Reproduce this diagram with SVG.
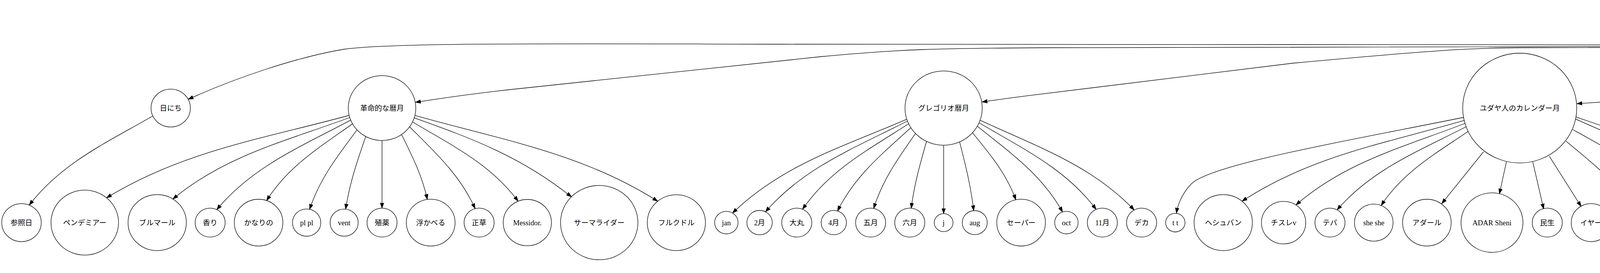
<svg xmlns="http://www.w3.org/2000/svg" width="7953" height="698" viewBox="0 0 7953 698">
<style>
.n ellipse{fill:none;stroke:#000;stroke-width:1.3}
.n text{font-family:"Liberation Serif","Noto Sans CJK JP",serif;font-size:18.67px;text-anchor:middle;fill:#000}
#edges path{fill:none;stroke:#000;stroke-width:1.3;marker-end:url(#ah)}
</style>
<defs>
<marker id="ah" viewBox="0 0 14 10" refX="13.3" refY="5" markerWidth="14" markerHeight="10" markerUnits="userSpaceOnUse" orient="auto"><path d="M0,0.3 L13.3,5 L0,9.7 Z" fill="#000" stroke="#000" stroke-width="1"/></marker>
</defs>
<rect width="7953" height="698" fill="#fff"/>
<g id="edges">
<path d="M5321,51 C5295,78 5000,108 4620,115 L2000,113 C1500,112 1000,108 880,126 C760,146 600,200 482,254"/>
<path d="M5322.5,54.5 C5295,84 5000,111 4620,118 L2700,122 C2400,123 2300,126 2100,145 L1330,226.5 C1200,240 1100,256 1063.8,261.5"/>
<path d="M5324.5,57 C5295,88 5000,114 4620,120 L3900,122 C3770,122 3650,130 3310,161.5 L2640,243.6 C2580,251 2540,257 2514,260.7"/>
<path d="M5327,59.5 C5285,95 5000,170 4620,214 C4400,240 4150,258 4037,265"/>
<path d="M5344.5,66.5 L5344.5,193.3"/>
<path d="M5369.5,47 C5800,114 6300,192 6685.5,252"/>
<path d="M5370,43.5 C5800,58 6300,72 6600,83.3 C6800,91 6950,103 7000,118 C7045,135 7065,190 7072,228.6"/>
<path d="M5370,42.5 C5800,56 6300,68 6600,77 C6900,86 7100,108 7140,125 C7175,145 7192,185 7198,216.7"/>
<path d="M5370,41.5 C5800,53 6300,62 6600,70.5 C6950,80 7200,100 7270,115 C7310,128 7340,170 7350.6,218"/>
<path d="M391.2,296.5 C272.9,364.7 158.1,416.4 74.8,524.5"/>
<path d="M893.7,295 C672.2,355.1 468.7,386.2 272.9,505.8"/>
<path d="M895.3,300.5 C731.6,360.8 576.9,397.6 442.6,508.9"/>
<path d="M897.7,307.1 C770.4,375.1 647.2,425.1 554.9,536"/>
<path d="M902.4,316.6 C818.5,376.5 737.1,425.4 682.6,512.9"/>
<path d="M914,332.2 C864.4,398.5 818.7,456.6 792.6,535.2"/>
<path d="M936.2,349 C914.2,412.8 895.1,468.1 884.9,534.8"/>
<path d="M978,359.3 L978,532.2"/>
<path d="M1028,344 C1055.8,400 1080.5,448.9 1094,509.9"/>
<path d="M1048.6,324.2 C1115,390.5 1178.1,447.7 1216.3,533.5"/>
<path d="M1056.2,311.7 C1157.6,372.5 1256.1,419.5 1326.4,514.5"/>
<path d="M1060.5,301.3 C1212.6,355.3 1337,402.6 1463,503.4"/>
<path d="M1062.2,295.1 C1284.2,357.8 1489,390.8 1683.7,514.5"/>
<path d="M2321.4,304.9 C2158.5,374.9 2002.7,421.4 1875.3,544.7"/>
<path d="M2323,309.5 C2188.6,378.2 2058.6,427.7 1959.6,541.6"/>
<path d="M2326.1,316.5 C2223.5,382.6 2123.8,434.7 2054.5,535.1"/>
<path d="M2331.8,326.6 C2258.2,393.4 2187.8,450.3 2144.1,539.6"/>
<path d="M2343.6,341.4 C2299.7,404.4 2259.4,459.6 2236.6,533"/>
<path d="M2371.9,361.5 C2355,420.5 2340.5,471.5 2332.7,532.4"/>
<path d="M2415.7,371.3 L2415.7,546.2"/>
<path d="M2456.6,362.8 C2472.2,423.7 2485.5,476.2 2492.6,538.6"/>
<path d="M2489.7,339.3 C2534.7,394.9 2576.4,443.5 2600.6,510.8"/>
<path d="M2502,322.7 C2586.4,390.6 2667.7,447.2 2720.1,542"/>
<path d="M2506.5,314 C2618.7,380.4 2727.9,431.3 2806.2,535.5"/>
<path d="M2509.1,307.4 C2653.9,374.8 2793.3,421.5 2903.6,537"/>
<path d="M3747.3,300 C3450,360 3100,420 3050,470 C3030,490 3015,520 3011.8,544.9"/>
<path d="M3748.3,307.9 C3544.9,367 3356.9,398.6 3179.6,514.5"/>
<path d="M3750.3,315.5 C3593.4,376 3444.6,413.9 3317.6,524"/>
<path d="M3753.2,324 C3631.1,386.9 3512.8,432.6 3423,536.6"/>
<path d="M3758.4,336 C3673.8,393.6 3591.7,439.7 3535.8,525.4"/>
<path d="M3797.9,388 L3691,520.5"/>
<path d="M3856.4,413.7 L3838.5,495.7"/>
<path d="M3923.9,413.7 L3951.7,534.2"/>
<path d="M3966.4,399.6 L4047.6,527.8"/>
<path d="M4009.1,361.1 C4080,420 4145,470 4171.5,525.6"/>
<path d="M4026.2,331.2 C4150,400 4260,460 4297.6,525.6"/>
<path d="M4033.5,304.3 C4250,400 4390,460 4416.4,544.9"/>
<path d="M4034.8,299.1 C4300,390 4470,450 4497,534.5"/>
<path d="M5256.8,282 C5000,320 4750,380 4670,450 C4640,478 4625,505 4621,534"/>
<path d="M5261.2,299.7 C5089.8,360.3 4928.3,396.5 4786,509.6"/>
<path d="M5263.6,306.4 C5134.1,371.9 5009,419 4913.2,528"/>
<path d="M5267.5,314.7 C5173.8,380.5 5082.9,433.7 5021.6,530.4"/>
<path d="M5288.8,352.6 L5171.3,519.2"/>
<path d="M5327,359 L5297,510.7"/>
<path d="M5362.5,359 L5400,535"/>
<path d="M5390,348.3 L5495.8,517"/>
<path d="M5415.9,325.6 C5500,375 5600,440 5641,521.5"/>
<path d="M5427.4,306.8 C5600,380 5730,440 5792.8,512"/>
<path d="M5429.6,300 C5650,350 5880,420 5967.8,508.5"/>
<path d="M5431.7,290 C5800,345 6050,410 6110,470 C6130,485 6145,497 6155.8,508.5"/>
<path d="M6694.3,327.3 C6574,389 6457.6,433.6 6369.1,535.8"/>
<path d="M6699.8,340.3 C6618,396.3 6538.6,441.3 6484.6,524.4"/>
<path d="M6747.4,397.4 L6659.8,510.7"/>
<path d="M6803,425.2 L6776,522.2"/>
<path d="M6885,424.4 L6902.6,489.3"/>
<path d="M6961,397.4 C6995,435 7040,475 7060,527"/>
<path d="M6950.4,389 C6995,430 7040,448 7110,452 C7160,458 7178,500 7180,546"/>
<path d="M6950.4,389 C7000,440 7100,452 7180,455 C7220,458 7245,480 7262,506"/>
<path d="M6950.4,389 C7000,440 7150,450 7300,452 C7380,455 7430,475 7461,500.9"/>
<path d="M6950.4,389 C7000,440 7200,446 7450,444 C7600,443 7660,480 7673,545"/>
<path d="M6950.4,389 C7000,440 7300,444 7550,444 C7680,444 7730,480 7757,525.6"/>
<path d="M6950.4,389 C7000,440 7400,436 7620,438 C7780,440 7850,480 7878.6,523.5"/>
</g>
<g id="n-tsuki" class="n"><ellipse cx="5344.5" cy="41.5" rx="25.6" ry="25"/><text x="5344.5" y="48">月</text></g>
<g id="n-gekko" class="n"><ellipse cx="5256.5" cy="41.5" rx="38.5" ry="37"/><text x="5256.5" y="48">月光</text></g>
<g id="n-hinichi" class="n"><ellipse cx="437" cy="276.3" rx="50.4" ry="48.4"/><text x="437" y="282.8">日にち</text></g>
<g id="n-kakumei" class="n"><ellipse cx="978" cy="276.3" rx="86.5" ry="83"/><text x="978" y="282.8">革命的な暦月</text></g>
<g id="n-gregorio" class="n"><ellipse cx="2415.7" cy="276.3" rx="98.9" ry="95"/><text x="2415.7" y="282.8">グレゴリオ暦月</text></g>
<g id="n-yudaya" class="n"><ellipse cx="3890.5" cy="276.3" rx="146" ry="140.3"/><text x="3890.5" y="282.8">ユダヤ人のカレンダー月</text></g>
<g id="n-islam" class="n"><ellipse cx="5344.5" cy="276.3" rx="86.8" ry="83.3"/><text x="5344.5" y="282.8">イスラム暦月</text></g>
<g id="n-hindu" class="n"><ellipse cx="6843.6" cy="276.3" rx="158.5" ry="152"/><text x="6843.6" y="282.8">ヒンズー教のカレンダー月</text></g>
<g id="n-ijo" class="n"><ellipse cx="7077" cy="276.3" rx="50.8" ry="48.8"/><text x="7077" y="282.8">異常月</text></g>
<g id="n-yuri" class="n"><ellipse cx="7212" cy="276.3" rx="62" ry="59.5"/><text x="7212" y="282.8">百合の月</text></g>
<g id="n-taiyo" class="n"><ellipse cx="7362" cy="276.3" rx="62" ry="59.5"/><text x="7362" y="282.8">太陽の月</text></g>
<g id="n-sanshobi" class="n"><ellipse cx="55" cy="569.2" rx="50.6" ry="48.6"/><text x="55" y="575.7">参照日</text></g>
<g id="n-f01" class="n"><ellipse cx="217" cy="569.2" rx="86.5" ry="83"/><text x="217" y="575.7">ペンデミアー</text></g>
<g id="n-f02" class="n"><ellipse cx="402.4" cy="569.2" rx="74.6" ry="71.6"/><text x="402.4" y="575.7">ブルマール</text></g>
<g id="n-f03" class="n"><ellipse cx="538" cy="569.2" rx="38.5" ry="37"/><text x="538" y="575.7">香り</text></g>
<g id="n-f04" class="n"><ellipse cx="662" cy="569.2" rx="62.2" ry="59.7"/><text x="662" y="575.7">かなりの</text></g>
<g id="n-f05" class="n"><ellipse cx="785" cy="569.2" rx="36.3" ry="34.8"/><text x="785" y="575.7">pl pl</text></g>
<g id="n-f06" class="n"><ellipse cx="881" cy="569.2" rx="36" ry="34.6"/><text x="881" y="575.7">vent</text></g>
<g id="n-f07" class="n"><ellipse cx="978" cy="569.2" rx="38.5" ry="37"/><text x="978" y="575.7">殖薬</text></g>
<g id="n-f08" class="n"><ellipse cx="1102.6" cy="569.2" rx="62.4" ry="59.9"/><text x="1102.6" y="575.7">浮かべる</text></g>
<g id="n-f09" class="n"><ellipse cx="1226.5" cy="569.2" rx="38.5" ry="37"/><text x="1226.5" y="575.7">正草</text></g>
<g id="n-f10" class="n"><ellipse cx="1350" cy="569.2" rx="61.7" ry="59.2"/><text x="1350" y="575.7">Messidor.</text></g>
<g id="n-f11" class="n"><ellipse cx="1534" cy="569.2" rx="99" ry="95"/><text x="1534" y="575.7">サーマライダー</text></g>
<g id="n-f12" class="n"><ellipse cx="1731.5" cy="569.2" rx="74.4" ry="71.4"/><text x="1731.5" y="575.7">フルクドル</text></g>
<g id="n-g01" class="n"><ellipse cx="1859.5" cy="569.2" rx="30" ry="28.8"/><text x="1859.5" y="575.7">jan</text></g>
<g id="n-g02" class="n"><ellipse cx="1944.5" cy="569.2" rx="32.5" ry="31.2"/><text x="1944.5" y="575.7">2月</text></g>
<g id="n-g03" class="n"><ellipse cx="2039.7" cy="569.2" rx="38.5" ry="37"/><text x="2039.7" y="575.7">大丸</text></g>
<g id="n-g04" class="n"><ellipse cx="2134.5" cy="569.2" rx="32.3" ry="31"/><text x="2134.5" y="575.7">4月</text></g>
<g id="n-g05" class="n"><ellipse cx="2228.8" cy="569.2" rx="38.5" ry="37"/><text x="2228.8" y="575.7">五月</text></g>
<g id="n-g06" class="n"><ellipse cx="2329" cy="569.2" rx="38.5" ry="37"/><text x="2329" y="575.7">六月</text></g>
<g id="n-g07" class="n"><ellipse cx="2415.7" cy="569.2" rx="24" ry="23"/><text x="2415.7" y="575.7">j</text></g>
<g id="n-g08" class="n"><ellipse cx="2495.4" cy="569.2" rx="32" ry="30.7"/><text x="2495.4" y="575.7">aug</text></g>
<g id="n-g09" class="n"><ellipse cx="2614" cy="569.2" rx="62.3" ry="59.8"/><text x="2614" y="575.7">セーパー</text></g>
<g id="n-g10" class="n"><ellipse cx="2730" cy="569.2" rx="30" ry="28.8"/><text x="2730" y="575.7">oct</text></g>
<g id="n-g11" class="n"><ellipse cx="2822" cy="569.2" rx="38.5" ry="37"/><text x="2822" y="575.7">11月</text></g>
<g id="n-g12" class="n"><ellipse cx="2922.5" cy="569.2" rx="38.5" ry="37"/><text x="2922.5" y="575.7">デカ</text></g>
<g id="n-j01" class="n"><ellipse cx="3008.8" cy="569.2" rx="24.8" ry="23.8"/><text x="3008.8" y="575.7">t t</text></g>
<g id="n-j02" class="n"><ellipse cx="3131.5" cy="569.2" rx="74.6" ry="71.6"/><text x="3131.5" y="575.7">ヘシュバン</text></g>
<g id="n-j03" class="n"><ellipse cx="3286" cy="569.2" rx="56.7" ry="54.4"/><text x="3286" y="575.7">チスレv</text></g>
<g id="n-j04" class="n"><ellipse cx="3404.7" cy="569.2" rx="38.5" ry="37"/><text x="3404.7" y="575.7">テバ</text></g>
<g id="n-j05" class="n"><ellipse cx="3516.9" cy="569.2" rx="49.4" ry="47.4"/><text x="3516.9" y="575.7">she she</text></g>
<g id="n-j06" class="n"><ellipse cx="3652.8" cy="569.2" rx="62.2" ry="59.7"/><text x="3652.8" y="575.7">アダール</text></g>
<g id="n-j07" class="n"><ellipse cx="3819.5" cy="569.2" rx="79.3" ry="76.1"/><text x="3819.5" y="575.7">ADAR Sheni</text></g>
<g id="n-j08" class="n"><ellipse cx="3961" cy="569.2" rx="38.5" ry="37"/><text x="3961" y="575.7">民生</text></g>
<g id="n-j09" class="n"><ellipse cx="4073" cy="569.2" rx="50.6" ry="48.6"/><text x="4073" y="575.7">イヤー</text></g>
<g id="n-j10" class="n"><ellipse cx="4197" cy="569.2" rx="50.6" ry="48.6"/><text x="4197" y="575.7">シバン</text></g>
<g id="n-j11" class="n"><ellipse cx="4321" cy="569.2" rx="50.4" ry="48.4"/><text x="4321" y="575.7">タマス</text></g>
<g id="n-j12" class="n"><ellipse cx="4421" cy="569.2" rx="25.4" ry="24.4"/><text x="4421" y="575.7">ab</text></g>
<g id="n-j13" class="n"><ellipse cx="4509" cy="569.2" rx="38.3" ry="36.8"/><text x="4509" y="575.7">エロ</text></g>
<g id="n-i01" class="n"><ellipse cx="4609" cy="569.2" rx="38.5" ry="37"/><text x="4609" y="575.7">丸刀</text></g>
<g id="n-i02" class="n"><ellipse cx="4744.6" cy="569.2" rx="74.6" ry="71.6"/><text x="4744.6" y="575.7">サファール</text></g>
<g id="n-i03" class="n"><ellipse cx="4891.6" cy="569.2" rx="48" ry="46.1"/><text x="4891.6" y="575.7">Rabi I.</text></g>
<g id="n-i04" class="n"><ellipse cx="5006.4" cy="569.2" rx="43.2" ry="41.5"/><text x="5006.4" y="575.7">rabi ii</text></g>
<g id="n-i05" class="n"><ellipse cx="5135.6" cy="569.2" rx="62.2" ry="59.7"/><text x="5135.6" y="575.7">Jomada I.</text></g>
<g id="n-i06" class="n"><ellipse cx="5283.4" cy="569.2" rx="62" ry="59.5"/><text x="5283.4" y="575.7">Jomada II</text></g>
<g id="n-i07" class="n"><ellipse cx="5406" cy="569.2" rx="36.3" ry="34.8"/><text x="5406" y="575.7">ra ra</text></g>
<g id="n-i08" class="n"><ellipse cx="5529" cy="569.2" rx="62.2" ry="59.7"/><text x="5529" y="575.7">シャバン</text></g>
<g id="n-i09" class="n"><ellipse cx="5678.3" cy="569.2" rx="62.4" ry="59.9"/><text x="5678.3" y="575.7">ラマダン</text></g>
<g id="n-i10" class="n"><ellipse cx="5839.6" cy="569.2" rx="74.6" ry="71.6"/><text x="5839.6" y="575.7">ショーワル</text></g>
<g id="n-i11" class="n"><ellipse cx="6020" cy="569.2" rx="81.7" ry="78.4"/><text x="6020" y="575.7">Dhu'l-Qa'dah.</text></g>
<g id="n-i12" class="n"><ellipse cx="6206" cy="569.2" rx="81" ry="77.8"/><text x="6206" y="575.7">Dhu Al-Hijja.</text></g>
<g id="n-h01" class="n"><ellipse cx="6350" cy="569.2" rx="39.7" ry="38.1"/><text x="6350" y="575.7">ch ch</text></g>
<g id="n-h02" class="n"><ellipse cx="6465" cy="569.2" rx="50.6" ry="48.6"/><text x="6465" y="575.7">バサク</text></g>
<g id="n-h03" class="n"><ellipse cx="6614" cy="569.2" rx="74.4" ry="71.4"/><text x="6614" y="575.7">ジャリスタ</text></g>
<g id="n-h04" class="n"><ellipse cx="6763" cy="569.2" rx="50.8" ry="48.8"/><text x="6763" y="575.7">asadha.</text></g>
<g id="n-h05" class="n"><ellipse cx="6925" cy="569.2" rx="86.5" ry="83"/><text x="6925" y="575.7">スラヴァーナ</text></g>
<g id="n-h06" class="n"><ellipse cx="7086" cy="569.2" rx="50.4" ry="48.4"/><text x="7086" y="575.7">バドン</text></g>
<g id="n-h07" class="n"><ellipse cx="7185" cy="569.2" rx="24.6" ry="23.6"/><text x="7185" y="575.7">as</text></g>
<g id="n-h08" class="n"><ellipse cx="7319.6" cy="569.2" rx="86.6" ry="83.1"/><text x="7319.6" y="575.7">カートティカ</text></g>
<g id="n-h09" class="n"><ellipse cx="7527.8" cy="569.2" rx="98" ry="94"/><text x="7527.8" y="575.7">マルガシエフサ</text></g>
<g id="n-h10" class="n"><ellipse cx="7675.4" cy="569.2" rx="26" ry="25"/><text x="7675.4" y="575.7">膿</text></g>
<g id="n-h11" class="n"><ellipse cx="7774" cy="569.2" rx="50" ry="48"/><text x="7774" y="575.7">マグハ</text></g>
<g id="n-h12" class="n"><ellipse cx="7897" cy="569.2" rx="50.8" ry="48.8"/><text x="7897" y="575.7">胡蝶蘭</text></g>
</svg>
